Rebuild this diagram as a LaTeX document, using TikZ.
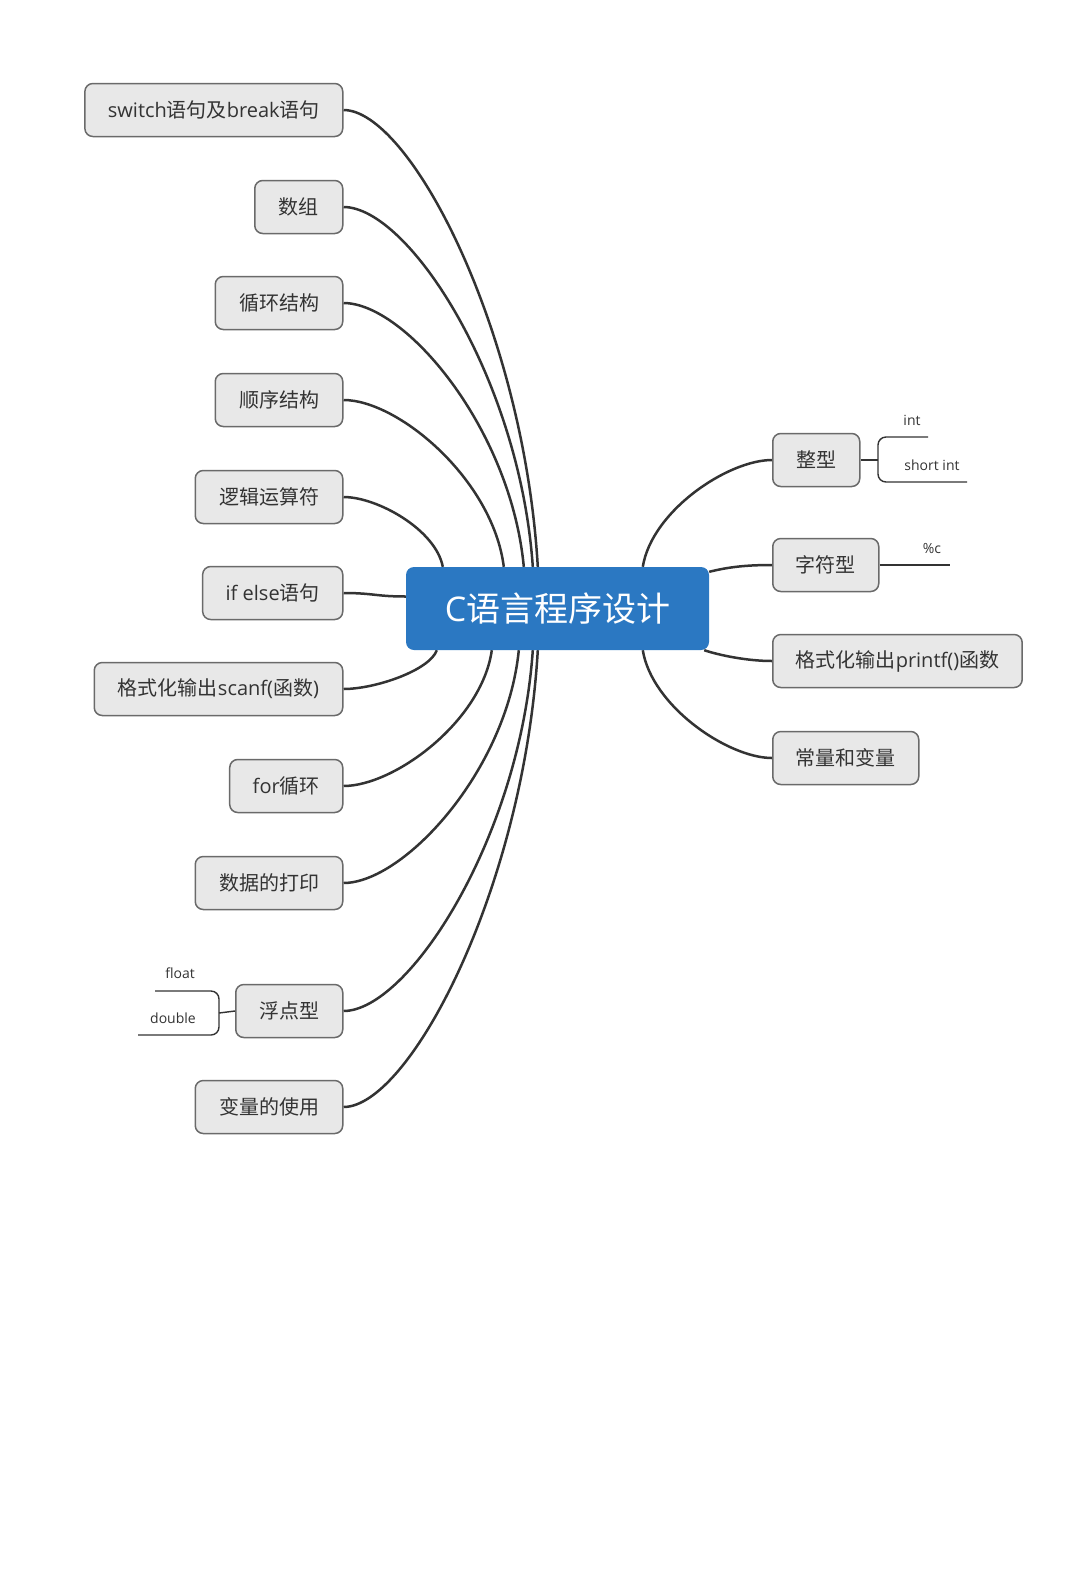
\documentclass[tikz,border=0pt]{standalone}
\usepackage{fontspec}
\setmainfont{Open Sans}
\newfontfamily\cjk{Noto Sans CJK SC}
\newcommand{\zh}[1]{{\cjk #1}}
\usetikzlibrary{backgrounds}

\definecolor{topicblue}{HTML}{2B78C2}
\definecolor{boxfill}{HTML}{E8E8E8}
\definecolor{boxline}{HTML}{6A6A6A}
\definecolor{inkgray}{HTML}{333333}

\tikzset{
  topic/.style={draw=boxline, fill=boxfill, line width=1.5pt, rounded corners=8pt,
    minimum height=53pt, inner xsep=23pt, text=inkgray, font=\fontsize{20}{24}\selectfont},
  root/.style={fill=topicblue, rounded corners=8pt, minimum width=303pt,
    minimum height=83pt, text=white, font=\fontsize{34}{40}\selectfont},
  leaf/.style={inner sep=0pt, text=inkgray, font=\fontsize{14}{17}\selectfont},
  link/.style={draw=inkgray, line width=2.5pt},
  twig/.style={draw=inkgray, line width=1.4pt}
}

\begin{document}
\begin{tikzpicture}[x=1pt,y=-1pt]
	\useasboundingbox (0,0) rectangle (1080,1588);
	% central topic
	\node[root] (c) at (557.5,608.5) {C\zh{语言程序设计}};

	% left topics
	\node[topic, anchor=east, minimum width=253.5pt] (sw)   at (343.5,110)  {switch\zh{语句及}break\zh{语句}};
	\node[topic, anchor=east, minimum width=88pt]    (arr)  at (343.5,207)  {\zh{数组}};
	\node[topic, anchor=east, minimum width=127.5pt] (loop) at (343.5,303)  {\zh{循环结构}};
	\node[topic, anchor=east, minimum width=127.5pt] (seq)  at (343.5,400)  {\zh{顺序结构}};
	\node[topic, anchor=east, minimum width=147.5pt] (logic) at (343.5,497) {\zh{逻辑运算符}};
	\node[topic, anchor=east, minimum width=139.5pt] (ife)  at (343.5,593)  {if else\zh{语句}};
	\node[topic, anchor=east, minimum width=248.5pt] (scan) at (343.5,689)  {\zh{格式化输出}scanf(\zh{函数})};
	\node[topic, anchor=east, minimum width=112.5pt] (forl) at (343.5,786)  {for\zh{循环}};
	\node[topic, anchor=east, minimum width=147.5pt] (prn)  at (343.5,883)  {\zh{数据的打印}};
	\node[topic, anchor=east, minimum width=107pt]   (flt)  at (343.5,1011) {\zh{浮点型}};
	\node[topic, anchor=east, minimum width=147.5pt] (var)  at (343.5,1107) {\zh{变量的使用}};

	% right topics
	\node[topic, anchor=west, minimum width=87pt]    (intt) at (772,460) {\zh{整型}};
	\node[topic, anchor=west, minimum width=106pt]   (chr)  at (772,565) {\zh{字符型}};
	\node[topic, anchor=west, minimum width=245.5pt] (pf)   at (772,661) {\zh{格式化输出}printf()\zh{函数}};
	\node[topic, anchor=west, minimum width=145.5pt] (cst)  at (772,758) {\zh{常量和变量}};

	% sub items
	\node[leaf] (int)   at (912,420)  {int};
	\node[leaf] (sint)  at (932,465)  {short int};
	\node[leaf] (pc)    at (932,548)  {\%c};
	\node[leaf] (float) at (180,973)  {float};
	\node[leaf] (dbl)   at (173,1018) {double};
	\coordinate (intb) at (878,460);
	\coordinate (fltb) at (219,1013);
	\draw[twig] (intt.east) -- (intb);
	\draw[twig, rounded corners=8pt] (928,437) -- (878,437) -- (878,482) -- (967,482);
	\draw[twig] (chr.east) -- (950,565);
	\draw[twig] (flt.west) -- (fltb);
	\draw[twig, rounded corners=8pt] (155,991) -- (219,991) -- (219,1035) -- (138,1035);

	\begin{scope}[on background layer]
	% links above the centre
	\draw[link] (sw.east) .. controls +(66,0) and +(-14,-238) .. ([xshift=132pt]c.north west);
	\draw[link] (arr.east) .. controls +(65,0) and +(-13,-188) .. ([xshift=127pt]c.north west);
	\draw[link] (loop.east) .. controls +(62,0) and +(-13,-138) .. ([xshift=118pt]c.north west);
	\draw[link] (seq.east) .. controls +(55,0) and +(-11,-87) .. ([xshift=98pt]c.north west);
	\draw[link] (logic.east) .. controls +(34,0) and +(-7,-37) .. ([xshift=37pt]c.north west);
	\draw[link] (ife.east) .. controls +(30,0) and +(-30,0) .. ([yshift=12pt]c.west);
	% links below the centre
	\draw[link] (scan.east) .. controls +(32,0) and +(-7,20) .. ([xshift=31pt]c.south west);
	\draw[link] (forl.east) .. controls +(51,0) and +(-10,71) .. ([xshift=86pt]c.south west);
	\draw[link] (prn.east) .. controls +(60,0) and +(-12,121) .. ([xshift=113pt]c.south west);
	\draw[link] (flt.east) .. controls +(65,0) and +(-13,188) .. ([xshift=127pt]c.south west);
	\draw[link] (var.east) .. controls +(66,0) and +(-14,238) .. ([xshift=132pt]c.south west);
	% links on the right
	\draw[link] (intt.west) .. controls +(-44,0) and +(9,-56) .. ([xshift=237pt]c.north west);
	\draw[link] (chr.west) .. controls +(-25,0) and +(20,-5) .. ([yshift=-5pt]c.north east);
	\draw[link] (pf.west) .. controls +(-25,0) and +(15,5) .. ([xshift=-5pt]c.south east);
	\draw[link] (cst.west) .. controls +(-44,0) and +(9,56) .. ([xshift=237pt]c.south west);
	\end{scope}
\end{tikzpicture}
\end{document}
